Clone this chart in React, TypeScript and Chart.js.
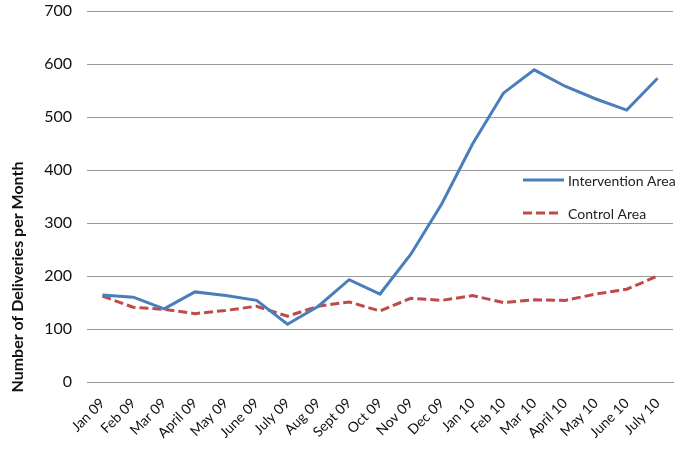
import React, { useEffect, useRef } from "react";
import { Chart, registerables } from "chart.js";

Chart.register(...registerables);

const months = [
  "Jan 09", "Feb 09", "Mar 09", "April 09", "May 09", "June 09", "July 09",
  "Aug 09", "Sept 09", "Oct 09", "Nov 09", "Dec 09", "Jan 10", "Feb 10",
  "Mar 10", "April 10", "May 10", "June 10", "July 10",
];

const interventionArea = [
  164, 160, 138, 170, 163, 154, 109, 143, 193, 166, 241, 336, 449, 545, 589,
  558, 534, 513, 573,
];

const controlArea = [
  162, 141, 137, 129, 135, 143, 124, 143, 151, 134, 158, 154, 163, 150, 155,
  154, 166, 175, 200,
];

const yAxisTitle = "Number of Deliveries per Month";
const FONT = "Lato, 'Open Sans', sans-serif";

const legendPlugin = {
  id: "insideLegend",
  afterDraw(chart: any) {
    const ctx = chart.ctx;
    ctx.save();
    const rows = [{ y: 180, end: 564 }, { y: 213, end: 559 }];
    chart.data.datasets.forEach((ds: any, i: number) => {
      const y = rows[i].y;
      ctx.strokeStyle = ds.borderColor;
      ctx.lineWidth = ds.borderWidth;
      ctx.setLineDash(ds.borderDash || []);
      ctx.beginPath();
      ctx.moveTo(523, y);
      ctx.lineTo(rows[i].end, y);
      ctx.stroke();
      ctx.setLineDash([]);
      ctx.fillStyle = "#222";
      ctx.font = "14px " + FONT;
      ctx.textBaseline = "middle";
      ctx.textAlign = "left";
      ctx.fillText(ds.label, 568, y + 1);
    });
    ctx.translate(18, 277);
    ctx.rotate(-Math.PI / 2);
    ctx.font = "bold 16px " + FONT;
    ctx.fillStyle = "#111";
    ctx.textAlign = "center";
    ctx.textBaseline = "middle";
    ctx.fillText(yAxisTitle, 0, 0);
    ctx.restore();
  },
};

export default function App() {
  const ref = useRef<HTMLCanvasElement>(null);
  useEffect(() => {
    document.body.style.margin = "0";
    const chart = new Chart(ref.current!, {
      type: "line",
      data: {
        labels: months,
        datasets: [
          {
            label: "Intervention Area",
            data: interventionArea,
            borderColor: "#4A7EBB",
            borderWidth: 3,
            pointRadius: 0,
            tension: 0,
            fill: false,
          },
          {
            label: "Control Area",
            data: controlArea,
            borderColor: "#BE4B48",
            borderWidth: 3,
            borderDash: [9, 4],
            pointRadius: 0,
            tension: 0,
            fill: false,
          },
        ],
      },
      options: {
        responsive: false,
        animation: false,
        layout: { padding: { top: 0, right: 12, left: 0, bottom: 0 } },
        plugins: {
          legend: { display: false },
          tooltip: { enabled: false },
        },
        scales: {
          x: {
            offset: true,
            grid: { display: false, drawTicks: false },
            border: { display: true, color: "#999999", width: 1 },
            ticks: {
              minRotation: 45,
              maxRotation: 45,
              autoSkip: false,
              padding: 13,
              color: "#111",
              font: { family: FONT, size: 14 },
            },
            afterFit(scale: any) {
              scale.height = 68;
            },
          },
          y: {
            min: 0,
            max: 700,
            ticks: {
              stepSize: 100,
              padding: 15,
              color: "#111",
              font: { family: FONT, size: 16 },
            },
            grid: { color: "#999999", drawTicks: false },
            border: { display: false },
            afterFit(scale: any) {
              scale.width = 87;
              scale.paddingTop = 11;
              scale.paddingBottom = 0;
            },
          },
        },
      },
      plugins: [legendPlugin],
    });
    return () => chart.destroy();
  }, []);
  return <canvas ref={ref} width={685} height={450} />;
}
